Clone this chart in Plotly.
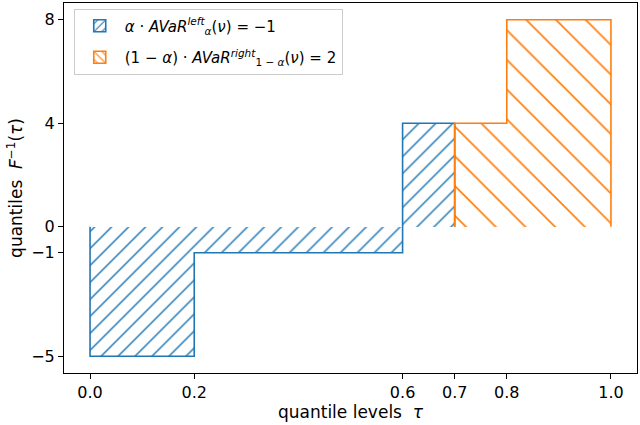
import plotly.graph_objects as go

# data
blue_edges = [0.0, 0.2, 0.6, 0.7]
blue_vals = [-5, -1, 4]
orange_edges = [0.7, 0.8, 1.0]
orange_vals = [4, 8]
x_ticks = [0.0, 0.2, 0.6, 0.7, 0.8, 1.0]
x_ticklabels = ["0.0", "0.2", "0.6", "0.7", "0.8", "1.0"]
y_ticks = [-5, -1, 0, 4, 8]
blue_label = "<i>α</i> · <i>AVaR</i><sup><i>left</i></sup><sub><i>α</i></sub>(<i>ν</i>) = −1"
orange_label = "(1 − <i>α</i>) · <i>AVaR</i><sup><i>right</i></sup><sub>1 − <i>α</i></sub>(<i>ν</i>) = 2"

BLUE = "#1f77b4"
ORANGE = "#ff7f0e"
FONT = "DejaVu Sans"


def centers_widths(edges):
    c = [(edges[i] + edges[i + 1]) / 2 for i in range(len(edges) - 1)]
    w = [edges[i + 1] - edges[i] for i in range(len(edges) - 1)]
    return c, w


def step_outline(edges, vals):
    xs, ys = [edges[0]], [0]
    for i, v in enumerate(vals):
        xs += [edges[i], edges[i + 1]]
        ys += [v, v]
    xs.append(edges[-1])
    ys.append(0)
    return xs, ys


fig = go.Figure()

for gi, (edges, vals, col, shape, size, sol, label) in enumerate([
    (blue_edges, blue_vals, BLUE, "/", 12, 0.12, blue_label),
    (orange_edges, orange_vals, ORANGE, "\\", 21, 0.08, orange_label),
]):
    c, w = centers_widths(edges)
    fig.add_trace(go.Bar(
        x=c, y=vals, width=w, showlegend=False,
        marker=dict(color="rgba(0,0,0,0)", line=dict(width=0),
                    pattern=dict(shape=shape, fgcolor=col, bgcolor="rgba(0,0,0,0)",
                                 fgopacity=1, size=size, solidity=sol, fillmode="overlay")),
        hoverinfo="skip",
    ))
    xs, ys = step_outline(edges, vals)
    fig.add_trace(go.Scatter(x=xs, y=ys, mode="lines", showlegend=False,
                             line=dict(color=col, width=1.6), hoverinfo="skip"))
    # legend entry
    fig.add_trace(go.Bar(
        x=[None], y=[None], name=label, showlegend=True, legendgroup=f"g{gi}",
        marker=dict(color="rgba(0,0,0,0)", line=dict(width=1.6, color=col),
                    pattern=dict(shape=shape, fgcolor=col, bgcolor="rgba(0,0,0,0)",
                                 fgopacity=1, size=7, solidity=0.2, fillmode="overlay")),
    ))

fig.update_layout(
    width=640, height=425,
    margin=dict(l=64, r=3, t=3, b=52),
    paper_bgcolor="white", plot_bgcolor="white",
    barmode="overlay", bargap=0,
    font=dict(family=FONT, size=14, color="black"),
    legend=dict(x=0.017, y=0.985, xanchor="left", yanchor="top",
                bgcolor="rgba(255,255,255,0.8)", bordercolor="#cccccc", borderwidth=1,
                font=dict(family=FONT, size=15), tracegroupgap=9, itemwidth=40),
    xaxis=dict(range=[-0.05, 1.05], tickvals=x_ticks, ticktext=x_ticklabels,
               tickfont=dict(size=16),
               showgrid=False, zeroline=False, showline=True, mirror=True,
               linecolor="black", linewidth=1, ticks="outside", ticklen=5,
               tickcolor="black", tickwidth=1,
               title=dict(text="quantile levels  <i>τ</i>", standoff=4)),
    yaxis=dict(range=[-5.65, 8.65], tickvals=y_ticks, tickfont=dict(size=16),
               showgrid=False, zeroline=False, showline=True, mirror=True,
               linecolor="black", linewidth=1, ticks="outside", ticklen=5,
               tickcolor="black", tickwidth=1,
               title=dict(text="quantiles  <i>F</i><sup>−1</sup>(<i>τ</i>)", standoff=4)),
)

fig.write_html("out.html")
